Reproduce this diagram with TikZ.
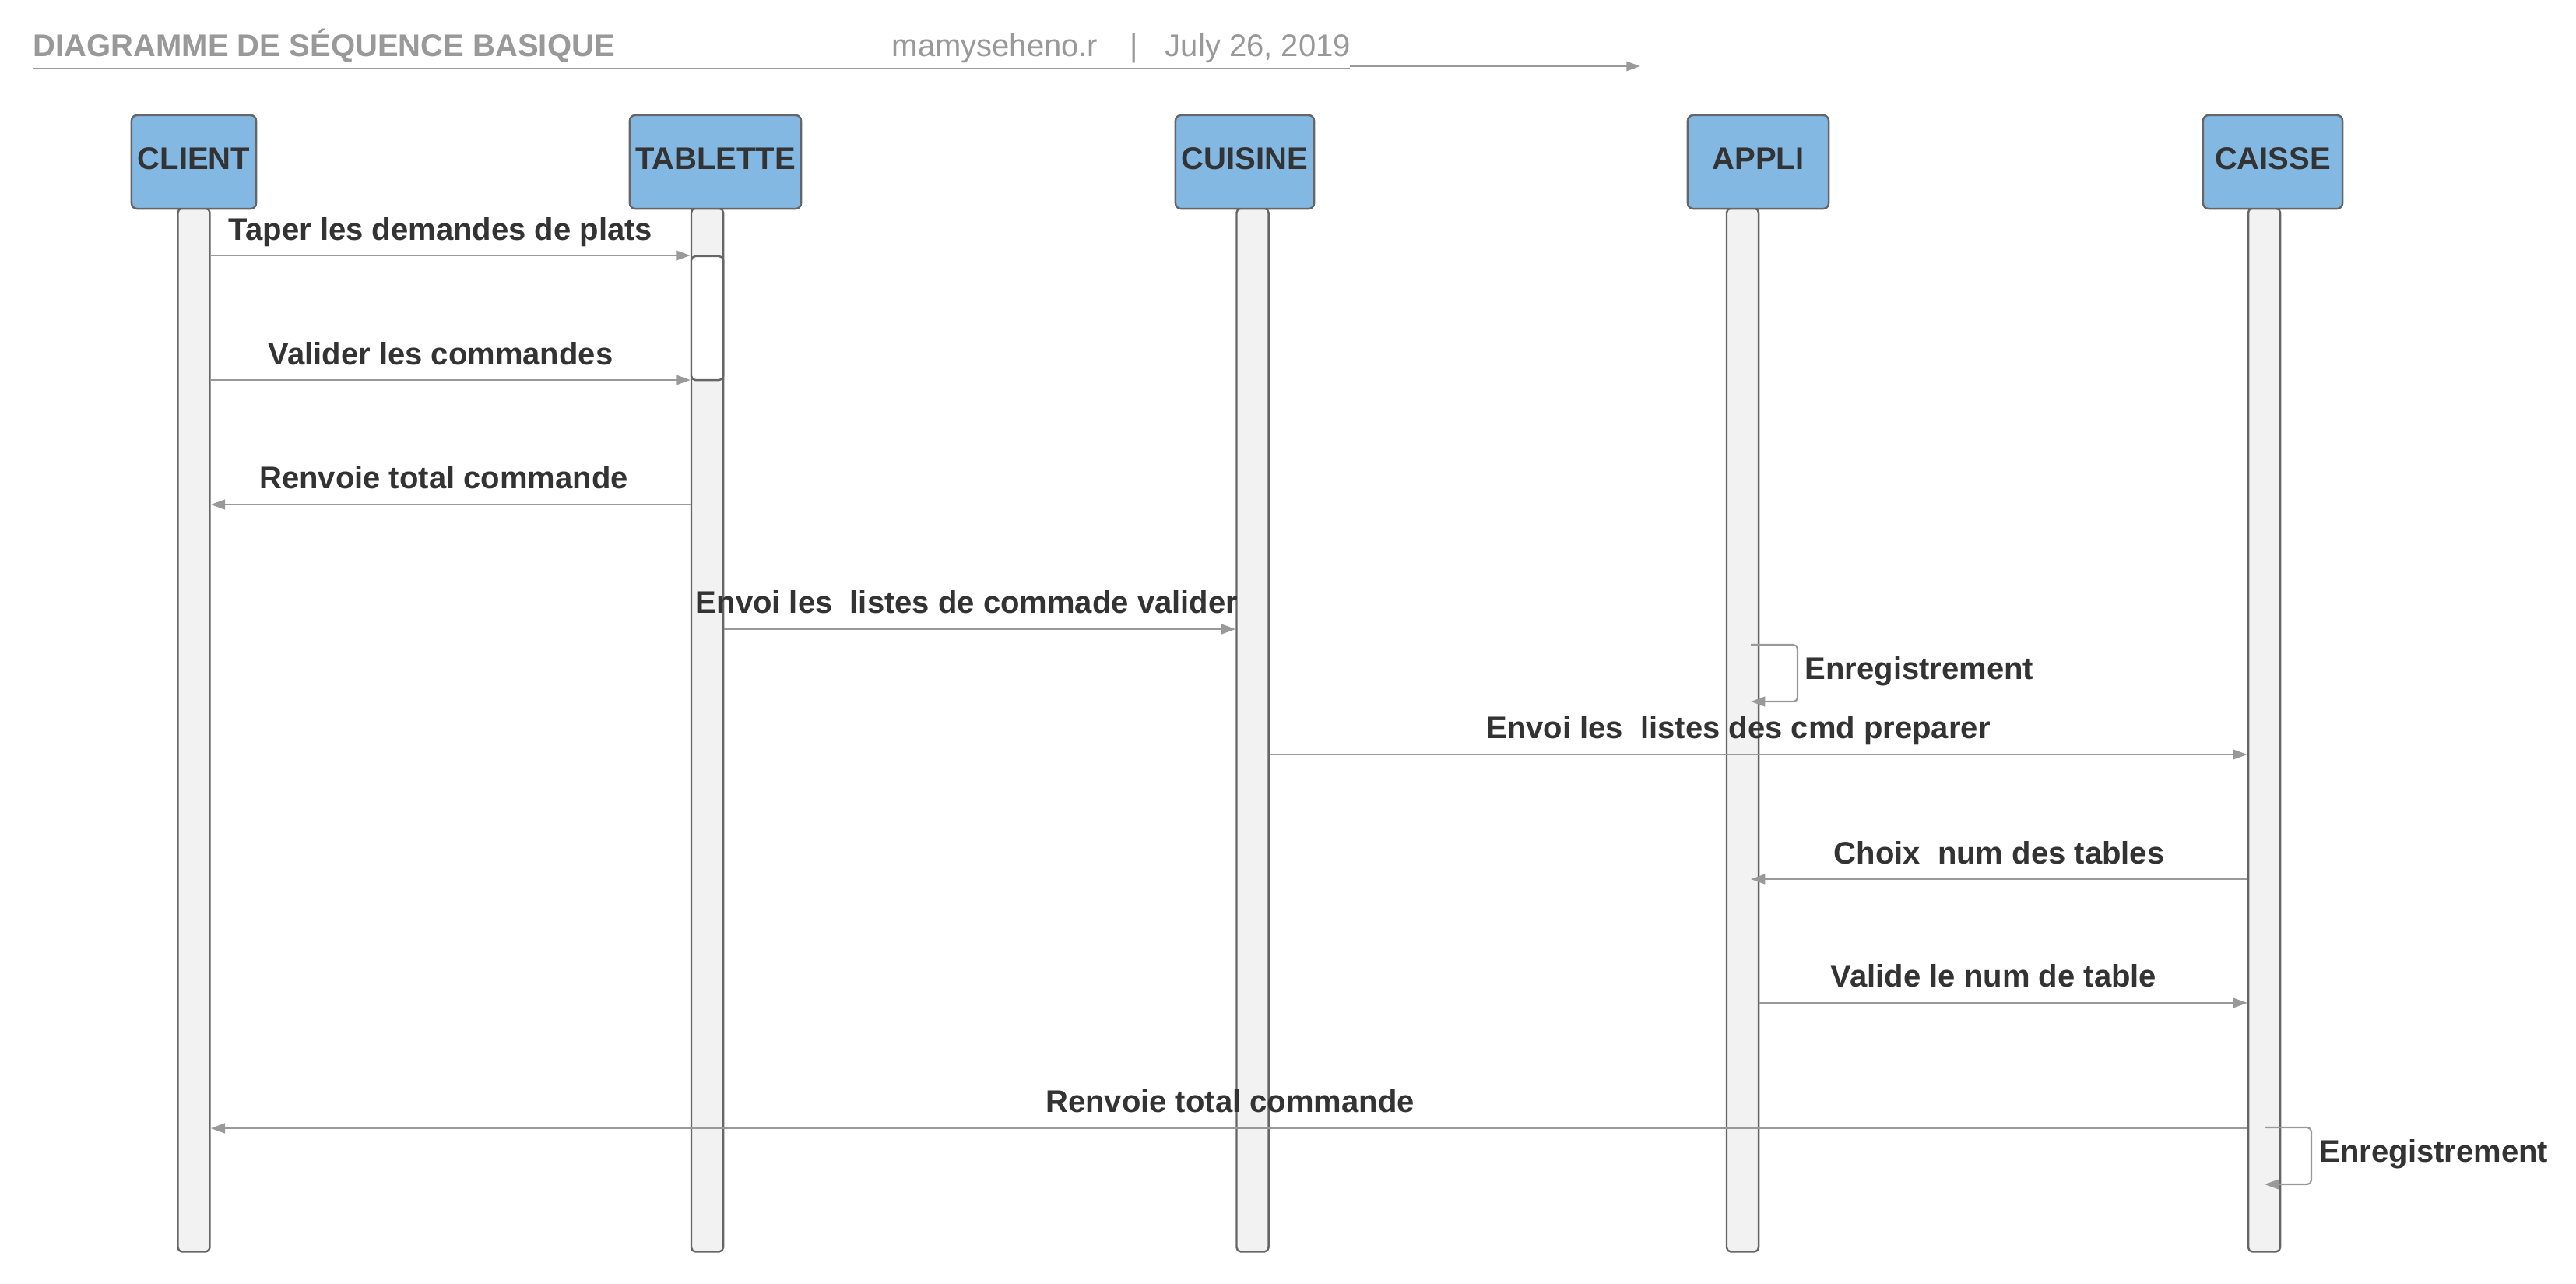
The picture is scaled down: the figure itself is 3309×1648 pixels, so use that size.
\documentclass[tikz,border=0pt]{standalone}
\usepackage{fontspec}
\setmainfont{Liberation Sans}
\usetikzlibrary{arrows.meta}
\definecolor{hdrblue}{HTML}{83B8E3}
\definecolor{boxline}{HTML}{666666}
\definecolor{barfill}{HTML}{F2F2F2}
\definecolor{msgline}{HTML}{999999}
\definecolor{txtdark}{HTML}{333333}
\definecolor{titlegray}{HTML}{999999}
\tikzset{
  lbl/.style={font=\fontsize{11.38}{13}\selectfont\bfseries, text=txtdark, inner sep=0pt},
  ttl/.style={font=\fontsize{11.38}{13}\selectfont\bfseries, text=titlegray, inner sep=0pt},
  meta/.style={font=\fontsize{11.38}{13}\selectfont, text=titlegray, inner sep=0pt},
  actor/.style={draw=boxline, fill=hdrblue, line width=0.7pt, rounded corners=2pt, inner sep=0pt},
  lifebar/.style={draw=boxline, fill=barfill, line width=0.7pt, rounded corners=1.5pt, inner sep=0pt, minimum width=0.41cm, minimum height=13.39cm},
  actbox/.style={draw=boxline, fill=white, line width=0.7pt, rounded corners=1.5pt, inner sep=0pt, minimum width=0.41cm, minimum height=1.59cm},
  msg/.style={draw=msgline, line width=0.6pt, -{Triangle[length=5.2pt,width=3.6pt]}},
  hdrline/.style={draw=msgline, line width=0.8pt}
}
\begin{document}
\begin{tikzpicture}[x=0.01cm,y=-0.01cm]
\useasboundingbox (0,0) rectangle (3309,1648);

% title
\node[ttl, anchor=base west] (title) at (42,72) {DIAGRAMME DE SÉQUENCE BASIQUE};
\node[meta, anchor=base] (author) at (1278,72) {mamyseheno.r};
\node[meta, anchor=base] (sep) at (1457,72) {|};
\node[meta, anchor=base] (date) at (1616,72) {July 26, 2019};
\coordinate (h0) at (42,88);
\coordinate (h1) at (1734,88);
\coordinate (h2) at (1734,85);
\coordinate (h3) at (2107,85);
\draw[hdrline] (h0) -- (h1);
\draw[hdrline, -{Triangle[length=5pt,width=3.4pt]}] (h2) -- (h3);

% lifelines
\node[lifebar] (clientbar) at (249,937.5) {};
\node[lifebar] (tabbar) at (908.5,937.5) {};
\node[lifebar] (cuisbar) at (1609,937.5) {};
\node[lifebar] (appbar) at (2238.5,937.5) {};
\node[lifebar] (caisbar) at (2908.5,937.5) {};
\node[actbox] (tabact) at (908.5,408.5) {};

% actors
\node[actor, minimum width=1.60cm, minimum height=1.20cm] (client) at (249,208) {};
\node[actor, minimum width=2.20cm, minimum height=1.20cm] (tab) at (919,208) {};
\node[actor, minimum width=1.78cm, minimum height=1.20cm] (cuis) at (1599,208) {};
\node[actor, minimum width=1.81cm, minimum height=1.20cm] (app) at (2258.5,208) {};
\node[actor, minimum width=1.79cm, minimum height=1.20cm] (cais) at (2919.5,208) {};
\node[lbl, anchor=base] (clientt) at (249,217) {CLIENT};
\node[lbl, anchor=base] (tabt) at (919,217) {TABLETTE};
\node[lbl, anchor=base] (cuist) at (1599,217) {CUISINE};
\node[lbl, anchor=base] (appt) at (2258.5,217) {APPLI};
\node[lbl, anchor=base] (caist) at (2919.5,217) {CAISSE};

% message levels
\coordinate (y1) at (0,328);
\coordinate (y2) at (0,488);
\coordinate (y3) at (0,648);
\coordinate (y4) at (0,808);
\coordinate (y6) at (0,969);
\coordinate (y7) at (0,1129);
\coordinate (y8) at (0,1288);
\coordinate (y9) at (0,1449);
\coordinate (a7end) at (2249,1129);

\draw[msg] (clientbar.east |- y1) -- (tabbar.west |- y1);
\node[lbl, anchor=base] (l1) at (566,308) {Taper les demandes de plats};
\draw[msg] (clientbar.east |- y2) -- (tabbar.west |- y2);
\node[lbl, anchor=base] (l2) at (566,468) {Valider les commandes};
\draw[msg] (tabbar.west |- y3) -- (clientbar.east |- y3);
\node[lbl, anchor=base] (l3) at (570,627) {Renvoie total commande};
\draw[msg] (tabbar.east |- y4) -- (cuisbar.west |- y4);
\node[lbl, anchor=base] (l4) at (1242,787) {Envoi les\ \ listes de commade valider};

% self message APPLI
\coordinate (s1a) at (2249,828);
\coordinate (s1b) at (2309,828);
\coordinate (s1c) at (2309,901);
\coordinate (s1d) at (2249,901);
\draw[msg, rounded corners=1.5pt] (s1a) -- (s1b) -- (s1c) -- (s1d);
\node[lbl, anchor=base west] (l5) at (2318,872) {Enregistrement};

\draw[msg] (cuisbar.east |- y6) -- (caisbar.west |- y6);
\node[lbl, anchor=base] (l6) at (2233,948) {Envoi les\ \ listes des cmd preparer};
\draw[msg] (caisbar.west |- y7) -- (a7end);
\node[lbl, anchor=base] (l7) at (2568,1109) {Choix\ \ num des tables};
\draw[msg] (appbar.east |- y8) -- (caisbar.west |- y8);
\node[lbl, anchor=base] (l8) at (2561,1267) {Valide le num de table};
\draw[msg] (caisbar.west |- y9) -- (clientbar.east |- y9);
\node[lbl, anchor=base] (l9) at (1580,1428) {Renvoie total commande};

% self message CAISSE
\coordinate (s2a) at (2909,1448);
\coordinate (s2b) at (2969,1448);
\coordinate (s2c) at (2969,1521);
\coordinate (s2d) at (2909,1521);
\draw[msg, rounded corners=1.5pt] (s2a) -- (s2b) -- (s2c) -- (s2d);
\node[lbl, anchor=base west] (l10) at (2979,1492) {Enregistrement};
\end{tikzpicture}
\end{document}
